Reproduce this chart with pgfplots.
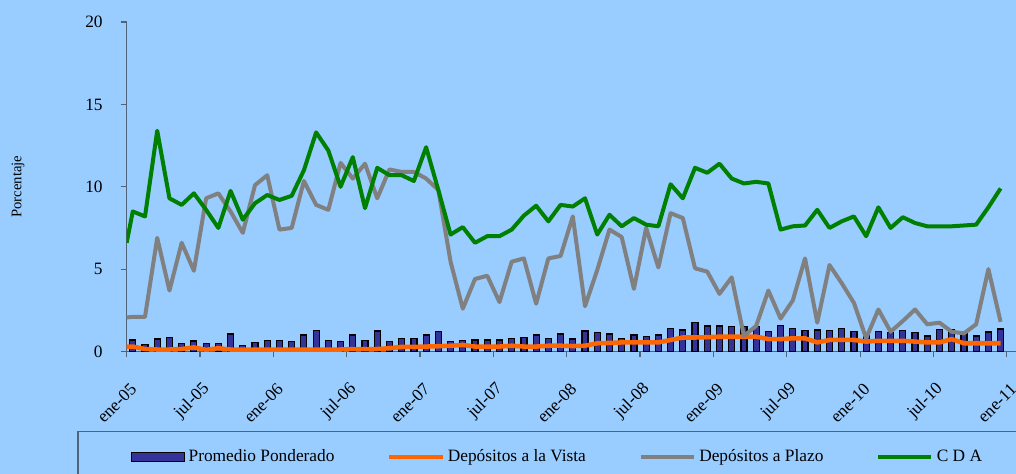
\documentclass[border=0pt]{standalone}
\usepackage{fontspec}
\setmainfont{Liberation Serif}
\usepackage{pgfplots}
\pgfplotsset{compat=1.18}
\usepackage{pgfplotstable}
\definecolor{bgblue}{HTML}{99CCFF}
\definecolor{axgray}{HTML}{4F6479}
\definecolor{barblue}{HTML}{333399}
\definecolor{vista}{HTML}{FF6600}
\definecolor{plazo}{HTML}{808080}
\definecolor{cda}{HTML}{008000}

% tasas mensuales, ene-05 (x=0) a dic-10 (x=71)
\pgfplotstableread{
x prom vista plazo cda
-0.5 nan 0.30 2.07 6.6
0 0.70 0.30 2.10 8.50
1 0.44 0.15 2.10 8.20
2 0.76 0.12 6.90 13.40
3 0.84 0.12 3.70 9.30
4 0.50 0.15 6.60 8.90
5 0.64 0.25 4.90 9.60
6 0.50 0.10 9.30 8.60
7 0.50 0.20 9.60 7.50
8 1.06 0.12 8.50 9.75
9 0.35 0.12 7.20 8.00
10 0.56 0.12 10.10 9.00
11 0.66 0.12 10.70 9.50
12 0.68 0.12 7.40 9.20
13 0.62 0.12 7.50 9.45
14 1.00 0.12 10.35 11.00
15 1.28 0.12 8.90 13.30
16 0.66 0.12 8.60 12.20
17 0.60 0.12 11.45 10.00
18 1.00 0.15 10.50 11.80
19 0.66 0.15 11.40 8.70
20 1.24 0.15 9.30 11.15
21 0.60 0.20 11.05 10.70
22 0.80 0.28 10.90 10.70
23 0.80 0.28 10.90 10.35
24 1.00 0.30 10.50 12.40
25 1.20 0.32 9.80 9.80
26 0.60 0.35 5.45 7.10
27 0.66 0.40 2.60 7.55
28 0.70 0.30 4.40 6.60
29 0.70 0.30 4.60 7.00
30 0.70 0.30 3.00 7.00
31 0.80 0.35 5.45 7.40
32 0.84 0.30 5.65 8.25
33 1.00 0.30 2.90 8.85
34 0.80 0.35 5.65 7.90
35 1.06 0.35 5.80 8.90
36 0.76 0.33 8.20 8.80
37 1.24 0.35 2.75 9.30
38 1.14 0.50 4.95 7.10
39 1.06 0.52 7.40 8.30
40 0.80 0.55 6.95 7.60
41 1.00 0.55 3.80 8.10
42 0.90 0.55 7.50 7.70
43 1.00 0.55 5.10 7.60
44 1.40 0.70 8.40 10.15
45 1.30 0.85 8.10 9.30
46 1.75 0.85 5.05 11.15
47 1.55 0.87 4.85 10.85
48 1.55 0.90 3.50 11.40
49 1.50 0.90 4.50 10.50
50 1.50 0.90 0.95 10.20
51 1.50 0.90 1.55 10.30
52 1.20 0.75 3.70 10.20
53 1.56 0.75 2.00 7.40
54 1.40 0.80 3.10 7.60
55 1.26 0.80 5.65 7.65
56 1.30 0.55 1.75 8.60
57 1.26 0.70 5.25 7.50
58 1.38 0.70 4.15 7.90
59 1.20 0.70 2.95 8.20
60 1.10 0.60 0.80 7.00
61 1.20 0.65 2.55 8.75
62 1.15 0.65 1.20 7.50
63 1.26 0.65 1.85 8.15
64 1.15 0.60 2.55 7.80
65 0.94 0.55 1.65 7.60
66 1.32 0.55 1.75 7.60
67 1.30 0.75 1.20 7.60
68 1.06 0.50 1.10 7.65
69 0.94 0.50 1.65 7.70
70 1.18 0.50 5.00 8.75
71 1.36 0.50 1.80 9.90
}\tasas

\begin{document}
\begin{tikzpicture}
\useasboundingbox (0,0) rectangle (762pt,355.5pt);
\clip (0,0) rectangle (762pt,355.5pt);
\fill[bgblue] (0,0) rectangle (762pt,355.5pt);
% marco de la leyenda, cortado por el borde
\draw[axgray, line width=1.1pt] (58.5pt,-5pt) rectangle (800pt,31.7pt);
\begin{axis}[
    at={(95pt,91.875pt)}, anchor=south west,
    scale only axis, width=669.2pt, height=247.1pt,
    xmin=-0.5, xmax=72.5, ymin=0, ymax=20,
    axis x line=bottom, axis y line=left,
    axis line style={-, axgray, line width=1.1pt},
    tick style={axgray, line width=0.8pt},
    tick align=outside, major tick length=4.5pt,
    xtick={-0.5,5.5,11.5,17.5,23.5,29.5,35.5,41.5,47.5,53.5,59.5,65.5,71.5},
    xticklabels={ene-05,jul-05,ene-06,jul-06,ene-07,jul-07,ene-08,jul-08,ene-09,jul-09,ene-10,jul-10,ene-11},
    ytick={0,5,10,15,20},
    tick label style={font=\fontsize{13}{15}\selectfont},
    /pgf/number format/assume math mode=true,
    xticklabel style={rotate=45, anchor=east, xshift=-8.3pt, yshift=-19pt},
    yticklabel style={xshift=-10pt},
    ylabel={Porcentaje},
    ylabel style={font=\fontsize{11}{13}\selectfont, at={(axis description cs:-0.1218,0.5)}, anchor=center},
    legend columns=4,
    legend style={at={(axis description cs:0.004,-0.32)}, anchor=west,
        draw=none, fill=none, inner sep=0pt,
        font=\fontsize{13}{15}\selectfont,
        /tikz/every even column/.append style={column sep=37pt},
        nodes={inner sep=2.5pt}},
    legend cell align=left,
]
\addplot[ybar, bar width=4.5pt, fill=barblue, draw=black, line width=0.9pt,
    legend image code/.code={\draw[fill=barblue,draw=black,line width=1.1pt] (0pt,-3.3pt) rectangle (40pt,3.3pt);}]
    table[x=x, y=prom] {\tasas};
\addlegendentry{Promedio Ponderado}
\addplot[vista, line width=3.4pt, line join=round, mark=none,
    legend image code/.code={\draw[vista,line width=3pt] (0pt,0pt) -- (40pt,0pt);}]
    table[x=x, y=vista] {\tasas};
\addlegendentry{Depósitos a la Vista}
\addplot[plazo, line width=3pt, line join=round, mark=none,
    legend image code/.code={\draw[plazo,line width=3pt] (0pt,0pt) -- (40pt,0pt);}]
    table[x=x, y=plazo] {\tasas};
\addlegendentry{Depósitos a Plazo}
\addplot[cda, line width=3pt, line join=round, mark=none,
    legend image code/.code={\draw[cda,line width=3pt] (0pt,0pt) -- (40pt,0pt);}]
    table[x=x, y=cda] {\tasas};
\addlegendentry{C D A}
\end{axis}
\end{tikzpicture}
\end{document}
